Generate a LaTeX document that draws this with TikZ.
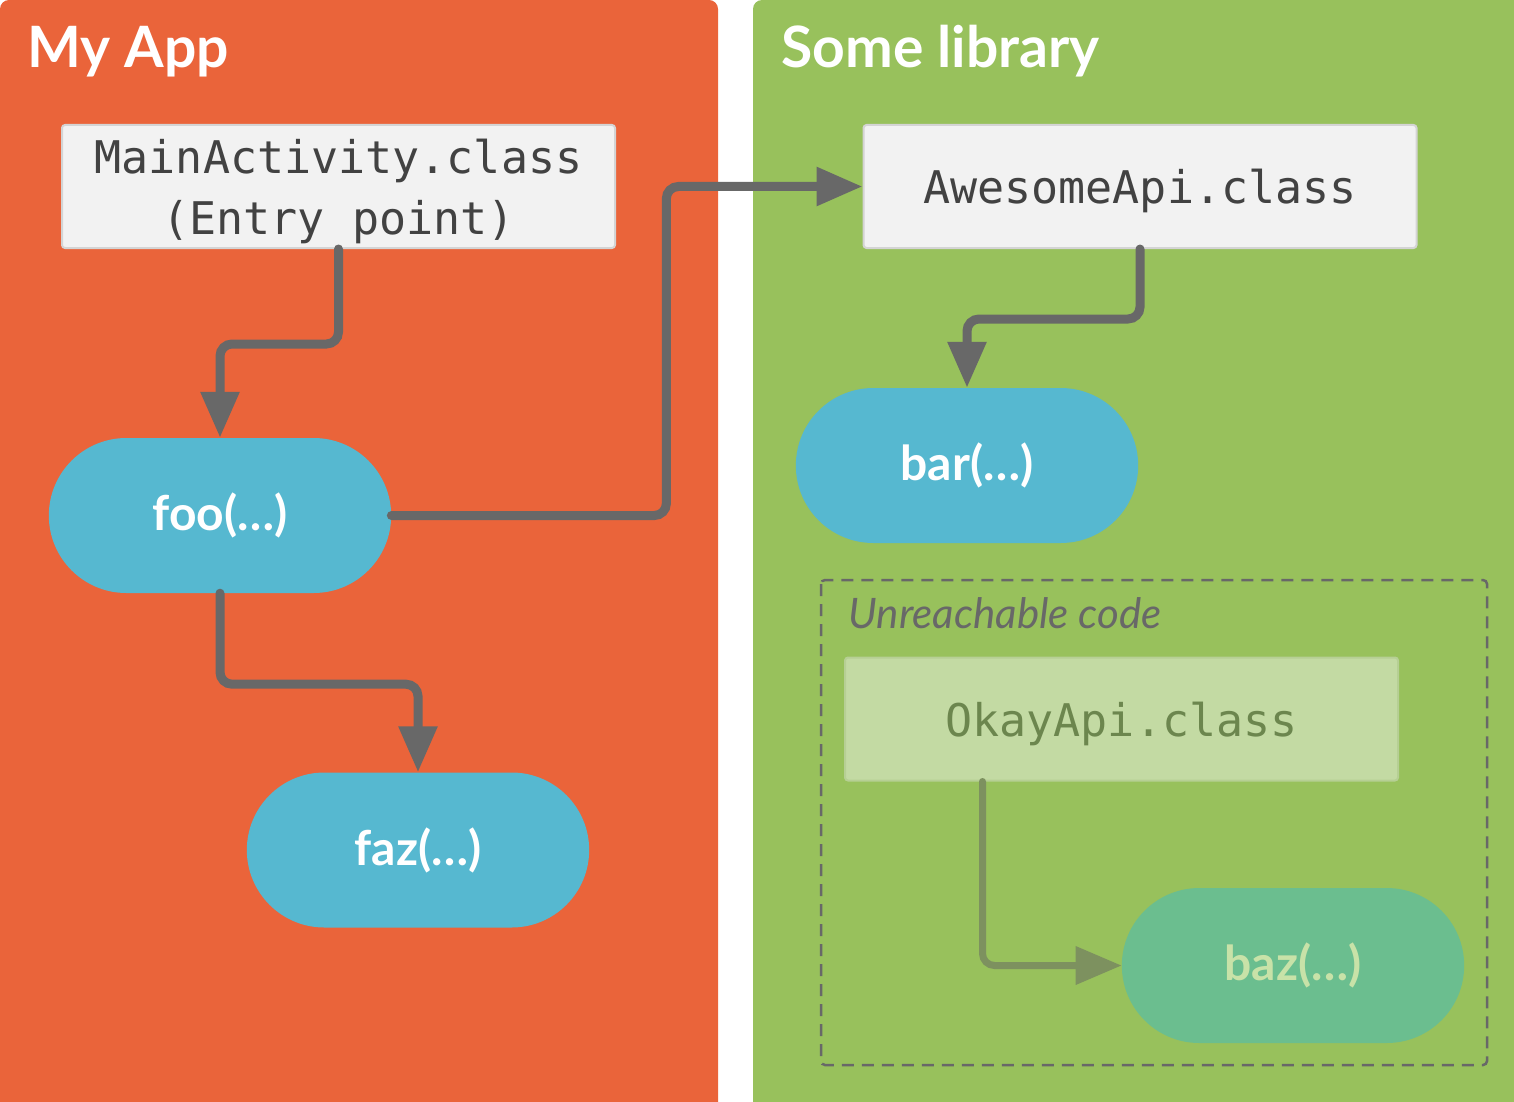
\documentclass[tikz,border=0pt]{standalone}
\usepackage{fontspec}
\setmainfont{Lato}
\setmonofont{DejaVu Sans Mono}
\usetikzlibrary{arrows.meta,shapes.misc}

\definecolor{appbg}{RGB}{234,100,58}
\definecolor{libbg}{RGB}{152,193,92}
\definecolor{pillblue}{RGB}{86,184,208}
\definecolor{boxfill}{RGB}{242,242,242}
\definecolor{boxline}{RGB}{212,212,212}
\definecolor{boxtext}{RGB}{66,66,66}
\definecolor{flowgray}{RGB}{104,104,104}
\definecolor{deadfill}{RGB}{195,218,163}
\definecolor{deadline}{RGB}{182,207,148}
\definecolor{deadtext}{RGB}{108,134,78}
\definecolor{deadpill}{RGB}{107,190,143}
\definecolor{deadlabel}{RGB}{200,226,168}
\definecolor{deadflow}{RGB}{125,145,95}

\tikzset{
  classbox/.style={rectangle, draw=boxline, fill=boxfill, line width=2pt, rounded corners=3pt,
    minimum width=553pt, minimum height=123pt, align=center, text=boxtext, text depth=0pt,
    font=\ttfamily\fontsize{45}{61}\selectfont},
  method/.style={rounded rectangle, fill=pillblue, minimum width=349pt, minimum height=155pt,
    text=white, font=\bfseries\fontsize{48}{56}\selectfont},
  flow/.style={draw=flowgray, line width=9pt, line cap=round, rounded corners=12pt,
    -{Triangle[length=46pt,width=37pt]}},
  panel/.style={rounded corners=9pt},
  title/.style={anchor=base west, text=white, font=\bfseries\fontsize{57}{66}\selectfont}
}

\begin{document}
\begin{tikzpicture}[x=1pt,y=-1pt]
\useasboundingbox (0,0) rectangle (1514,1102);

%Shape: panels
\fill[appbg, panel] (0,0) rectangle (718,1130);
\fill[libbg, panel] (753,0) rectangle (1540,1130);

% Text Node
\node[title] (apptitle) at (24,68) {My App};
% Text Node
\node[title] (libtitle) at (778,68) {Some library};

% Class boxes
\node[classbox] (main) at (338.5,186.5) {MainActivity.class\\(Entry point)};
\node[classbox] (api) at (1140,186.5) {AwesomeApi.class};

% Methods
\node[method] (foo) at (220,515.5) {foo(…)};
\node[method] (faz) at (418,850) {faz(…)};
\node[method] (bar) at (967,465.5) {bar(…)};

%Shape: unreachable frame
\draw[flowgray, line width=2.5pt, dash pattern=on 12pt off 8pt, rounded corners=4pt] (821,580) rectangle (1487,1065);
% Text Node
\node[anchor=base west, text=flowgray, font=\itshape\fontsize{42}{50}\selectfont] (deadtitle) at (845,628) {Unreachable code};

\node[classbox, draw=deadline, fill=deadfill, text=deadtext] (okay) at (1121.5,719) {OkayApi.class};
\node[method, fill=deadpill, text=deadlabel] (baz) at (1293,965.5) {baz(…)};

% Connectors
\draw[flow] (main.south) -- ++(0,95) -| (foo.north);
\draw[flow] (foo.east) -- ++(275,0) |- (api.west);
\draw[flow] (api.south) -- ++(0,70) -| (bar.north);
\draw[flow] (foo.south) -- ++(0,91) -| (faz.north);
\draw[flow, draw=deadflow, line width=7pt] ([xshift=-139pt]okay.south) |- (baz.west);
\end{tikzpicture}
\end{document}
